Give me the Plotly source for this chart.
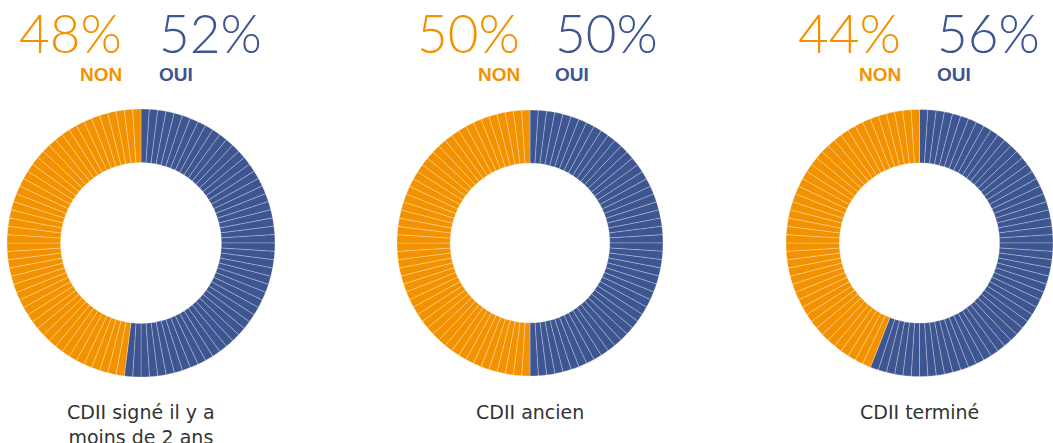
import plotly.graph_objects as go

categories = ["CDII signé il y a<br>moins de 2 ans", "CDII ancien", "CDII terminé"]
oui_values = [52, 50, 56]
non_values = [48, 50, 44]

W, H = 1053, 443
BLUE = "#3D5590"
ORANGE = "#F39200"

# pixel layout of each donut (left, right, top, bottom)
domains_px = [(7, 275, 109, 377), (397, 663, 109, 377), (786, 1053, 109, 377)]
# position of the percent block (right edge of NON, left edge of OUI)
pct_px = [(124, 157), (522, 553), (903, 935)]

fig = go.Figure()
annotations = []
for i, cat in enumerate(categories):
    oui, non = oui_values[i], non_values[i]
    vals = [1] * (oui + non)
    cols = [BLUE] * oui + [ORANGE] * non
    l, r, t, b = domains_px[i]
    fig.add_trace(go.Pie(
        values=vals,
        marker=dict(colors=cols, line=dict(color="rgba(255,255,255,0.45)", width=0.6)),
        hole=0.6,
        sort=False,
        direction="clockwise",
        rotation=0,
        textinfo="none",
        hoverinfo="skip",
        showlegend=False,
        domain=dict(x=[l / W, r / W], y=[1 - b / H, 1 - t / H]),
    ))
    cx = (l + r) / 2
    nx, ox = pct_px[i]
    annotations += [
        dict(text=f"{non}%", x=nx / W, y=1 - 66 / H, xanchor="right", yanchor="bottom",
             font=dict(family="Lato", size=53, color=ORANGE, weight=300)),
        dict(text=f"{oui}%", x=ox / W, y=1 - 66 / H, xanchor="left", yanchor="bottom",
             font=dict(family="Lato", size=53, color=BLUE, weight=300)),
        dict(text="<b>NON</b>", x=nx / W, y=1 - 62 / H, xanchor="right", yanchor="top",
             font=dict(family="Liberation Sans", size=19, color=ORANGE)),
        dict(text="<b>OUI</b>", x=ox / W, y=1 - 62 / H, xanchor="left", yanchor="top",
             font=dict(family="Liberation Sans", size=19, color=BLUE)),
        dict(text=cat, x=cx / W, y=1 - 399 / H, xanchor="center", yanchor="top",
             font=dict(family="DejaVu Sans", size=19, color="#333333")),
    ]

for a in annotations:
    a.update(xref="paper", yref="paper", showarrow=False)

fig.update_layout(
    width=W, height=H,
    margin=dict(l=0, r=0, t=0, b=0),
    paper_bgcolor="white", plot_bgcolor="white",
    annotations=annotations,
)
fig.write_html("out.html", config={"displayModeBar": False},
               post_script="document.body.style.margin='0';document.body.style.overflow='hidden';")
